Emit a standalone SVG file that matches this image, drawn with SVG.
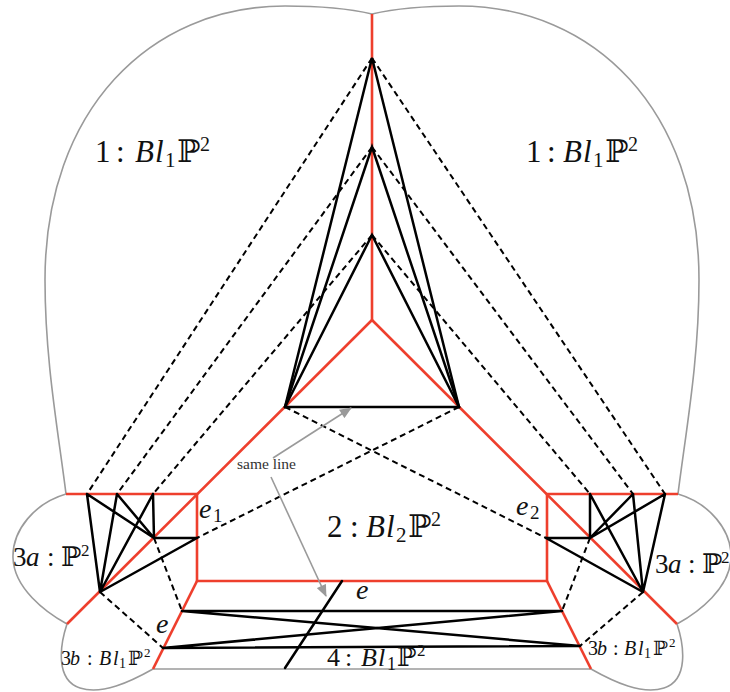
<svg xmlns="http://www.w3.org/2000/svg" width="730" height="692" viewBox="0 0 730 692">
<defs>
<style>
.outline{fill:none;stroke:#9a9a9a;stroke-width:1.6;stroke-linejoin:round}
.red{fill:none;stroke:#ee3f2d;stroke-width:2.6;stroke-linejoin:miter}
.solid{fill:none;stroke:#000;stroke-width:2.5;stroke-linecap:round}
.dash{fill:none;stroke:#000;stroke-width:2;stroke-dasharray:6 4}
.garrow{fill:none;stroke:#9a9a9a;stroke-width:1.6}
text{font-family:"Liberation Serif","DejaVu Serif","DejaVu Sans",serif;fill:#111}
.it{font-style:italic}
.L{font-size:31px}
.M{font-size:27px}
.S{font-size:20px}
.note{font-size:15.5px;fill:#333}
</style>
<marker id="ah" viewBox="0 0 12 10" refX="11" refY="5" markerWidth="13" markerHeight="10" markerUnits="userSpaceOnUse" orient="auto">
<path d="M0,0 L12,5 L0,10 z" fill="#9a9a9a"/>
</marker>
</defs>

<g id="outlines">
<g id="region1-left"><path class="outline" d="M66,494 C58,430 45,360 45,280 C45,110 150,6 285,6 C330,6 355,10 372,14"/></g>
<g id="region1-right"><path class="outline" d="M678,494 C686,430 699,360 699,280 C699,110 594,6 459,6 C414,6 389,10 372,14"/></g>
<g id="region3a-left"><path class="outline" d="M66,494 C35,503 12,530 13,558 C14,588 45,612 67,624"/></g>
<g id="region3a-right"><path class="outline" d="M678,494 C709,503 732,530 731,558 C730,588 699,612 677,624"/></g>
<g id="region3b-left"><path class="outline" d="M67,624 C60,645 55,680 80,688 C102,695 130,682 153,669"/></g>
<g id="region3b-right"><path class="outline" d="M677,624 C684,645 689,680 664,688 C642,695 614,682 591,669"/></g>
<g id="region4-bottom"><path class="outline" d="M153,669 L591,669"/></g>
</g>

<g id="red-curves">
<path class="red" d="M372,14 L372,320"/>
<path class="red" d="M372,320 L67,624"/>
<path class="red" d="M372,320 L677,624"/>
<path class="red" d="M66,494 L197,494 L197,581 L547,581 L547,494 L678,494"/>
<path class="red" d="M197,581 L153,669"/>
<path class="red" d="M547,581 L591,669"/>
</g>

<g id="connectors">
<g id="dashed">
<path class="dash" d="M372,58 L87,494"/>
<path class="dash" d="M372,147 L117,494"/>
<path class="dash" d="M372,235 L153,494"/>
<path class="dash" d="M372,58 L665,494"/>
<path class="dash" d="M372,147 L633,494"/>
<path class="dash" d="M372,235 L590,494"/>
<path class="dash" d="M285,407 L546,538"/>
<path class="dash" d="M459,407 L197,538"/>
<path class="dash" d="M154,538 L182,611"/>
<path class="dash" d="M100,592 L163,648"/>
<path class="dash" d="M590,538 L562,611"/>
<path class="dash" d="M643,592 L580,646"/>
</g>
<g id="solid">
<path class="solid" d="M285,407 L372,58 L459,407"/>
<path class="solid" d="M285,407 L372,147 L459,407"/>
<path class="solid" d="M285,407 L372,235 L459,407"/>
<path class="solid" d="M285,407 L459,407"/>
<path class="solid" d="M87,494 L100,592 M87,494 L154,538 M117,494 L100,592 M117,494 L154,538 M153,494 L100,592 M153,494 L154,538 M154,538 L197,538 M100,592 L197,538"/>
<path class="solid" d="M590,494 L590,538 M590,494 L643,592 M633,494 L590,538 M633,494 L643,592 M665,494 L590,538 M665,494 L643,592 M590,538 L546,538 M643,592 L546,538"/>
<path class="solid" d="M182,611 L562,611 M163,648 L580,646 M182,611 L580,646 M163,648 L562,611"/>
<path class="solid" d="M342,581 L285,668"/>
</g>
<g id="annotation-arrows">
<path class="garrow" d="M273,458 L351,408" marker-end="url(#ah)"/>
<path class="garrow" d="M271,477 L326,596" marker-end="url(#ah)"/>
</g>
</g>

<g id="labels">
<g id="label-1-left"><text class="L" y="162"><tspan x="95">1</tspan><tspan x="116">:</tspan><tspan x="135" class="it">B</tspan><tspan x="155" class="it">l</tspan><tspan x="165" y="167" font-size="21">1</tspan><tspan x="177" y="162">ℙ</tspan><tspan x="200" y="151" font-size="20">2</tspan></text></g>
<g id="label-1-right"><text class="L" y="162"><tspan x="526">1</tspan><tspan x="547">:</tspan><tspan x="563" class="it">B</tspan><tspan x="583" class="it">l</tspan><tspan x="593" y="167" font-size="21">1</tspan><tspan x="605" y="162">ℙ</tspan><tspan x="628" y="151" font-size="20">2</tspan></text></g>
<g id="label-2"><text class="L" y="537"><tspan x="327">2</tspan><tspan x="350">:</tspan><tspan x="366" class="it">B</tspan><tspan x="386" class="it">l</tspan><tspan x="396" y="542" font-size="21">2</tspan><tspan x="408" y="537">ℙ</tspan><tspan x="431" y="526" font-size="20">2</tspan></text></g>
<g id="label-3a-left"><text class="M" y="566"><tspan x="13">3</tspan><tspan x="26" class="it">a</tspan><tspan x="47">:</tspan><tspan x="61">ℙ</tspan><tspan x="81" y="556" font-size="17">2</tspan></text></g>
<g id="label-3a-right"><text class="M" y="573"><tspan x="655">3</tspan><tspan x="668" class="it">a</tspan><tspan x="688">:</tspan><tspan x="702">ℙ</tspan><tspan x="721" y="563" font-size="17">2</tspan></text></g>
<g id="label-3b-left"><text class="S" y="665"><tspan x="61">3</tspan><tspan x="70" class="it">b</tspan><tspan x="87">:</tspan><tspan x="99" class="it">B</tspan><tspan x="113" class="it">l</tspan><tspan x="119" y="668" font-size="14">1</tspan><tspan x="128" y="665">ℙ</tspan><tspan x="144" y="657" font-size="13">2</tspan></text></g>
<g id="label-3b-right"><text class="S" y="655"><tspan x="588">3</tspan><tspan x="597" class="it">b</tspan><tspan x="613">:</tspan><tspan x="624" class="it">B</tspan><tspan x="638" class="it">l</tspan><tspan x="644" y="658" font-size="14">1</tspan><tspan x="653" y="655">ℙ</tspan><tspan x="669" y="647" font-size="13">2</tspan></text></g>
<g id="label-4"><text font-size="26" y="666"><tspan x="327">4</tspan><tspan x="345">:</tspan><tspan x="361" class="it">B</tspan><tspan x="378" class="it">l</tspan><tspan x="387" y="670" font-size="18">1</tspan><tspan x="397" y="666">ℙ</tspan><tspan x="417" y="656" font-size="17">2</tspan></text></g>
<g id="label-e1"><text font-size="28"><tspan x="199" y="518" class="it">e</tspan><tspan x="213" y="522" font-size="19">1</tspan></text></g>
<g id="label-e2"><text font-size="28"><tspan x="516" y="515" class="it">e</tspan><tspan x="530" y="519" font-size="19">2</tspan></text></g>
<g id="label-e-left"><text font-size="28" class="it" x="156" y="633">e</text></g>
<g id="label-e-bottom"><text font-size="28" class="it" x="356" y="599">e</text></g>
<g id="label-same-line"><text class="note" x="237" y="469">same line</text></g>
</g>
</svg>
